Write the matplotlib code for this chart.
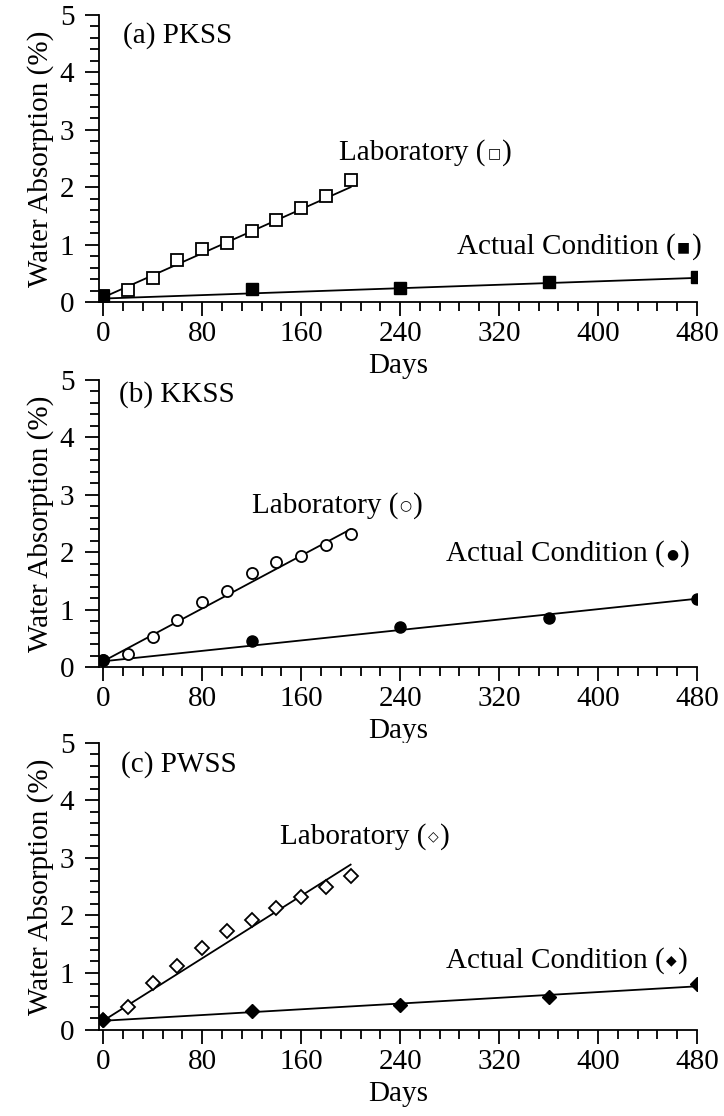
import matplotlib
matplotlib.use("Agg")
import matplotlib.pyplot as plt
import numpy as np
from matplotlib.ticker import MultipleLocator
from matplotlib.offsetbox import TextArea, HPacker, AnnotationBbox

plt.rcParams['font.family'] = ['Liberation Serif', 'DejaVu Sans']

# days of measurement
lab_days = [0, 20, 40, 60, 80, 100, 120, 140, 160, 180, 200]
act_days = [0, 120, 240, 360, 480]

# water absorption (%)
pkss_lab = [0.10, 0.21, 0.42, 0.73, 0.93, 1.02, 1.23, 1.42, 1.63, 1.84, 2.13]
pkss_act = [0.10, 0.22, 0.24, 0.35, 0.43]
kkss_lab = [0.12, 0.22, 0.52, 0.82, 1.13, 1.33, 1.63, 1.83, 1.93, 2.13, 2.32]
kkss_act = [0.12, 0.46, 0.69, 0.85, 1.18]
pwss_lab = [0.17, 0.40, 0.81, 1.12, 1.42, 1.72, 1.92, 2.12, 2.31, 2.49, 2.68]
pwss_act = [0.17, 0.33, 0.44, 0.57, 0.80]

# trend lines (intercept, slope) as drawn in the figure
pkss_fit = [(0.08, 0.0096), (0.06, 0.00075)]
kkss_fit = [(0.10, 0.0115), (0.10, 0.00227)]
pwss_fit = [(0.16, 0.0136), (0.16, 0.00125)]

titles = ['(a) PKSS', '(b) KKSS', '(c) PWSS']
markers = ['s', 'o', 'D']
lab_sym = ['\u25a1', '\u25cb', '\u25c7']
act_sym = ['\u25a0', '\u25cf', '\u25c6']

panels = [(pkss_lab, pkss_act, pkss_fit),
          (kkss_lab, kkss_act, kkss_fit),
          (pwss_lab, pwss_act, pwss_fit)]

# label anchors (days, %)
lab_txt = [(191, 2.6), (120, 2.82), (143, 3.37)]
act_txt = [(286, 0.96), (277, 1.97), (277, 1.21)]
title_txt = [(16, 4.65), (13, 4.75), (14.5, 4.63)]

FS = 21

# label text with a small marker symbol inside the brackets
def marker_label(ax, xy, text, sym):
    parts = [TextArea(text + ' (', textprops=dict(fontsize=FS)),
             TextArea(sym, textprops=dict(fontsize=10, family='DejaVu Sans')),
             TextArea(')', textprops=dict(fontsize=FS))]
    box = HPacker(children=parts, align='center', pad=0, sep=1)
    ab = AnnotationBbox(box, xy, xycoords='data', box_alignment=(0, 0.5),
                        frameon=False, pad=0)
    ax.add_artist(ab)

fig = plt.figure(figsize=(7.24, 11.16), dpi=100)
bottoms = [0.7294, 0.4023, 0.0771]

for i, (lab, act, fit) in enumerate(panels):
    ax = fig.add_axes([0.1374, bottoms[i], 0.8253, 0.2572])
    ms = 8 if markers[i] != 'D' else 7
    ax.plot(lab_days, lab, markers[i], ms=ms, mfc='white', mec='black',
            mew=1.3, ls='none', zorder=3)
    ax.plot(act_days, act, markers[i], ms=ms, mfc='black', mec='black',
            ls='none', zorder=3)
    xl = np.array([0, 200])
    ax.plot(xl, fit[0][0] + fit[0][1] * xl, color='black', lw=1.3)
    xa = np.array([0, 480])
    ax.plot(xa, fit[1][0] + fit[1][1] * xa, color='black', lw=1.3)

    ax.set_xlim(-3, 480)
    ax.set_ylim(0, 5)
    ax.xaxis.set_major_locator(MultipleLocator(80))
    ax.xaxis.set_minor_locator(MultipleLocator(16))
    ax.yaxis.set_major_locator(MultipleLocator(1))
    ax.yaxis.set_minor_locator(MultipleLocator(0.2))
    for s in ['top', 'right']:
        ax.spines[s].set_visible(False)
    for s in ['left', 'bottom']:
        ax.spines[s].set_linewidth(1.3)
    ax.tick_params(which='major', direction='out', length=10, width=1.3,
                   labelsize=FS)
    ax.tick_params(axis='y', which='major', pad=8)
    ax.tick_params(axis='x', which='major', pad=4)
    ax.tick_params(which='minor', direction='out', length=6.5, width=1.3)
    ax.set_ylabel('Water Absorption (%)', fontsize=FS, labelpad=4)
    ax.set_xlabel('Days', fontsize=FS, labelpad=4)

    ax.text(title_txt[i][0], title_txt[i][1], titles[i], fontsize=FS,
            va='center', ha='left')
    marker_label(ax, lab_txt[i], 'Laboratory', lab_sym[i])
    marker_label(ax, act_txt[i], 'Actual Condition', act_sym[i])

fig.savefig('out.png', dpi=100)
